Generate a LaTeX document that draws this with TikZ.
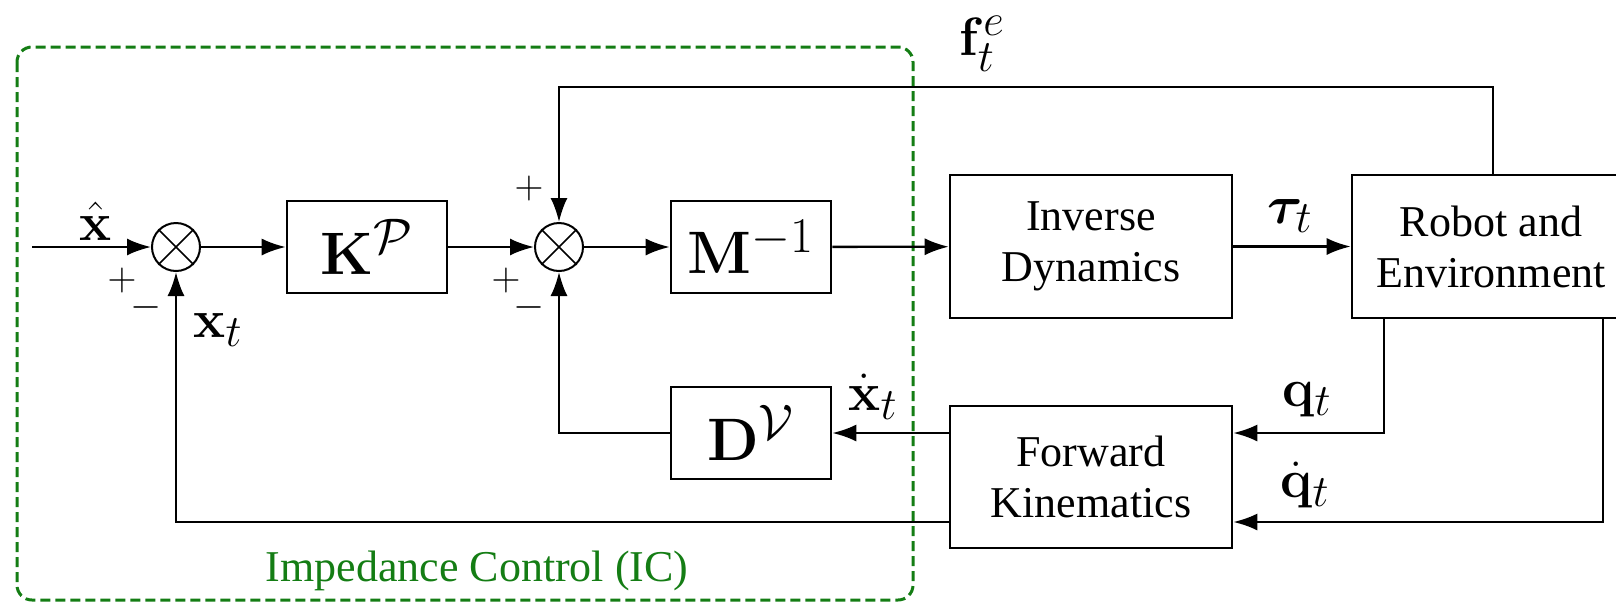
\documentclass[tikz,border=0pt]{standalone}
\usepackage{amsmath}
\usepackage{bm}
\usepackage{graphicx}
\usepackage[no-math]{fontspec}
\setmainfont{Liberation Serif}
\usetikzlibrary{arrows.meta}
\definecolor{icgreen}{RGB}{20,125,20}
\newcommand{\Mth}[2]{\scalebox{#1}{\Huge$#2$}}
\tikzset{
 blk/.style={draw, line width=2.6pt, inner sep=0pt},
 mbox/.style={blk, minimum width=160pt, minimum height=92pt},
 tbox/.style={blk, minimum width=282pt, minimum height=143pt, align=center, font=\fontsize{44}{51}\selectfont},
 sumn/.style={circle, draw, line width=2pt, minimum size=48pt, inner sep=0pt},
 conn/.style={line width=2.3pt, -{Latex[length=24pt,width=17pt]}},
 xline/.style={line width=1.6pt},
 lbl/.style={inner sep=0pt},
 sgn/.style={inner sep=0pt},
}
\begin{document}
\begin{tikzpicture}[x=1pt,y=-1pt]
\clip (0,0) rectangle (1616,603);
\draw[icgreen, line width=3pt, dash pattern=on 10pt off 5pt, rounded corners=15pt] (17,47) rectangle (913,600);
\node[icgreen, inner sep=0pt, font=\fontsize{44}{44}\selectfont] (ic) at (477,571) {Impedance Control (IC)};
\coordinate (in) at (32,247);
\node[sumn] (s1) at (176,247) {};
\node[mbox] (K) at (367,247) {\Mth{2.41}{\mathbf{K}^{\mathcal{P}}}};
\node[sumn] (s2) at (559,247) {};
\node[mbox] (M) at (751,247) {\Mth{2.41}{\mathbf{M}^{-1}}};
\node[tbox] (ID) at (1091,246.5) {Inverse\\Dynamics};
\node[tbox, minimum width=278pt] (R) at (1491,246.5) {Robot and\\Environment};
\node[mbox] (D) at (751,433) {\Mth{2.41}{\mathbf{D}^{\mathcal{V}}}};
\node[tbox, minimum height=142pt] (FK) at (1091,477) {Forward\\Kinematics};
\draw[xline] (s1.45)--(s1.225) (s1.135)--(s1.315);
\draw[xline] (s2.45)--(s2.225) (s2.135)--(s2.315);
\coordinate (fa) at (1493,87);
\coordinate (fb) at (559,87);
\coordinate (qa) at (1384,433);
\coordinate (qb) at (1603,522);
\draw[conn] (in) -- (s1);
\draw[conn] (s1) -- (K);
\draw[conn] (K) -- (s2);
\draw[conn] (s2) -- (M);
\draw[conn] (M) -- (ID);
\draw[conn] (ID) -- (R);
\draw[conn] (R.north -| fa) -- (fa) -- (fb) -- (s2);
\draw[conn] (R.south -| qa) -- (qa) -- (FK.east |- qa);
\draw[conn] (R.south -| qb) -- (qb) -- (FK.east |- qb);
\draw[conn] (FK.west |- qa) -- (D.east |- qa);
\draw[conn] (D.west) -| (s2.south);
\draw[conn] (FK.west |- qb) -| (s1.south);
\node[lbl] (xh) at (96,221) {\Mth{2.17}{\hat{\mathbf{x}}}};
\node[lbl] (xt) at (218,330) {\Mth{2.17}{\mathbf{x}_t}};
\node[lbl] (tau) at (1290,216) {\Mth{2.17}{\bm{\tau}_t}};
\node[lbl] (fe) at (982,44) {\Mth{2.17}{\mathbf{f}_t^e}};
\node[lbl] (xd) at (873,397) {\Mth{2.17}{\dot{\mathbf{x}}_t}};
\node[lbl] (qt) at (1307,400) {\Mth{2.17}{\mathbf{q}_t}};
\node[lbl] (qd) at (1305,485) {\Mth{2.17}{\dot{\mathbf{q}}_t}};
\node[sgn] (p1) at (122,280) {\Mth{1.61}{+}};
\node[sgn] (m1) at (146,307) {\Mth{1.61}{-}};
\node[sgn] (p2) at (506,280) {\Mth{1.61}{+}};
\node[sgn] (m2) at (529,307) {\Mth{1.61}{-}};
\node[sgn] (p3) at (529,188) {\Mth{1.61}{+}};
\end{tikzpicture}
\end{document}
